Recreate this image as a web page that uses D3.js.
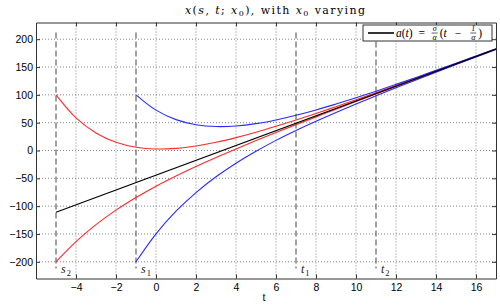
<!DOCTYPE html>
<html>
<head>
<meta charset="utf-8">
<script src="https://cdn.jsdelivr.net/npm/d3@7"></script>
<style>
  body { margin: 0; background: #fff; }
  .tick text { font-family: "Liberation Sans", Arial, sans-serif; font-size: 10.5px; fill: #000; }
  .math { font-family: "Liberation Serif", "DejaVu Serif", serif; }
</style>
</head>
<body>
<svg width="500" height="306"></svg>
<script>
// x tick / y tick labels
var xTicks = [-4, -2, 0, 2, 4, 6, 8, 10, 12, 14, 16];
var yTicks = [-200, -150, -100, -50, 0, 50, 100, 150, 200];

// marked times (dashed lines)
var marks = [
  {name: "s", sub: "2", t: -5},
  {name: "s", sub: "1", t: -1},
  {name: "t", sub: "1", t: 7},
  {name: "t", sub: "2", t: 11}
];

// a(t) line
var tLine = [-5, 17];
var aLine = [-111.1, 182.2];

// curves started at s2 = -5
var tRed = [-5, -4, -3, -2, -1, 0, 1, 2, 3, 4, 5, 6, 7, 8, 9, 10, 11, 12, 13, 14, 15, 16, 17];
var redUpper = [100, 58.6, 31.5, 14.7, 5.8, 2.7, 3.8, 8.1, 14.7, 23.1, 32.7, 43.4, 54.7, 66.5, 78.8, 91.2, 103.9, 116.9, 129.9, 142.9, 156.1, 169.3, 182.5];
var redLower = [-200, -163.7, -133.2, -107.2, -84.6, -64.2, -45.8, -28.7, -12.5, 2.9, 17.8, 32.3, 46.5, 60.4, 74.3, 87.9, 101.5, 115.1, 128.5, 141.9, 155.4, 168.8, 182.1];

// curves started at s1 = -1
var tBlue = [-1, 0, 1, 2, 3, 4, 5, 6, 7, 8, 9, 10, 11, 12, 13, 14, 15, 16, 17];
var blueUpper = [100, 72.5, 55.5, 46.4, 43.1, 44.1, 48.3, 54.9, 63.2, 72.8, 83.5, 94.7, 106.5, 118.8, 131.3, 144.0, 156.9, 169.9, 182.9];
var blueLower = [-200, -149.7, -109.1, -75.6, -47.2, -22.8, -1.3, 18.2, 36.0, 52.6, 68.5, 83.7, 98.3, 112.7, 126.8, 140.6, 154.4, 168.0, 181.6];

var svg = d3.select("svg");
var plotLeft = 36, plotRight = 496, plotTop = 22.5, plotBottom = 278.5;

var x = d3.scaleLinear().domain([-6, 17]).range([plotLeft, plotRight]);
var y = d3.scaleLinear().domain([-230, 230]).range([plotBottom, plotTop]);

svg.append("defs").append("clipPath").attr("id", "plot")
  .append("rect").attr("x", plotLeft).attr("y", plotTop)
  .attr("width", plotRight - plotLeft).attr("height", plotBottom - plotTop);

// grid
var grid = svg.append("g").attr("stroke", "#666").attr("stroke-width", 0.8).attr("stroke-dasharray", "1,2");
grid.selectAll(".gx").data(xTicks).enter().append("line")
  .attr("x1", function(d) { return x(d); }).attr("x2", function(d) { return x(d); })
  .attr("y1", plotTop).attr("y2", plotBottom);
grid.selectAll(".gy").data(yTicks).enter().append("line")
  .attr("y1", function(d) { return y(d); }).attr("y2", function(d) { return y(d); })
  .attr("x1", plotLeft).attr("x2", plotRight);

// dashed markers
svg.append("g").selectAll("line").data(marks).enter().append("line")
  .attr("x1", function(d) { return x(d.t); }).attr("x2", function(d) { return x(d.t); })
  .attr("y1", y(212)).attr("y2", y(-212))
  .attr("stroke", "#444").attr("stroke-width", 1).attr("stroke-dasharray", "6,3");

var labels = svg.append("g").attr("class", "math").selectAll("text").data(marks).enter().append("text")
  .attr("x", function(d) { return x(d.t) + 5; })
  .attr("y", 273)
  .attr("font-size", 12).attr("fill", "#222");
labels.append("tspan").attr("font-style", "italic").text(function(d) { return d.name; });
labels.append("tspan").attr("font-size", 8.5).attr("dx", 1).attr("dy", 2.5).text(function(d) { return d.sub; });

// curves
var plot = svg.append("g").attr("clip-path", "url(#plot)");
var line = d3.line().curve(d3.curveCatmullRom.alpha(0.5))
  .x(function(d) { return x(d[0]); })
  .y(function(d) { return y(d[1]); });

function series(ts, vs) {
  return ts.map(function(t, i) { return [t, vs[i]]; });
}

var curves = [
  {pts: series(tRed, redUpper), color: "#ff2a2a"},
  {pts: series(tRed, redLower), color: "#ff2a2a"},
  {pts: series(tBlue, blueUpper), color: "#2a2aff"},
  {pts: series(tBlue, blueLower), color: "#2a2aff"},
  {pts: series(tLine, aLine), color: "#000"}
];
plot.selectAll("path").data(curves).enter().append("path")
  .attr("d", function(d) { return line(d.pts); })
  .attr("fill", "none")
  .attr("stroke", function(d) { return d.color; })
  .attr("stroke-width", 1.1);

// axes, ticks pointing inwards
svg.append("g").attr("transform", "translate(0," + plotBottom + ")")
  .call(d3.axisBottom(x).tickValues(xTicks).tickSizeInner(-4).tickSizeOuter(0).tickPadding(5));
svg.append("g").attr("transform", "translate(0," + plotTop + ")")
  .call(d3.axisTop(x).tickValues(xTicks).tickSizeInner(-4).tickSizeOuter(0).tickFormat(""));
svg.append("g").attr("transform", "translate(" + plotLeft + ",0)")
  .call(d3.axisLeft(y).tickValues(yTicks).tickSizeInner(-4).tickSizeOuter(0).tickPadding(3));
svg.append("g").attr("transform", "translate(" + plotRight + ",0)")
  .call(d3.axisRight(y).tickValues(yTicks).tickSizeInner(-4).tickSizeOuter(0).tickFormat(""));
svg.selectAll(".domain").attr("stroke", "#333");
svg.selectAll(".tick line").attr("stroke", "#333");

svg.append("text").attr("class", "math")
  .attr("x", (plotLeft + plotRight) / 2 - 2).attr("y", 301)
  .attr("text-anchor", "middle").attr("font-size", 11.5).text("t");

// title
var title = svg.append("text")
  .attr("font-family", "'DejaVu Serif', serif")
  .attr("x", 275).attr("y", 14)
  .attr("text-anchor", "middle").attr("font-size", 11)
  .attr("textLength", 180).attr("lengthAdjust", "spacing");
title.append("tspan").attr("font-style", "italic").text("x");
title.append("tspan").text("(");
title.append("tspan").attr("font-style", "italic").text("s");
title.append("tspan").text(", ");
title.append("tspan").attr("font-style", "italic").text("t");
title.append("tspan").text("; ");
title.append("tspan").attr("font-style", "italic").text("x");
title.append("tspan").attr("font-size", 8).attr("dy", 2).text("0");
title.append("tspan").attr("dy", -2).text("), with ");
title.append("tspan").attr("font-style", "italic").text("x");
title.append("tspan").attr("font-size", 8).attr("dy", 2).text("0");
title.append("tspan").attr("dy", -2).text(" varying");

// legend
var lg = svg.append("g");
lg.append("rect").attr("x", 363).attr("y", 25).attr("width", 129).attr("height", 16)
  .attr("fill", "#fff").attr("stroke", "#333").attr("stroke-width", 1);
lg.append("line").attr("x1", 368).attr("x2", 394).attr("y1", 33).attr("y2", 33)
  .attr("stroke", "#000").attr("stroke-width", 1.6);

var lx = 396;
function part(str, italic) {
  var t = lg.append("text").attr("class", "math").attr("x", lx).attr("y", 37)
    .attr("font-size", 11.5).attr("font-style", italic ? "italic" : "normal").text(str);
  lx += t.node().getComputedTextLength();
}
function frac(num, den) {
  lg.append("text").attr("class", "math").attr("x", lx + 4).attr("y", 31)
    .attr("text-anchor", "middle").attr("font-size", 8).attr("font-style", "italic").text(num);
  lg.append("text").attr("class", "math").attr("x", lx + 4).attr("y", 39.5)
    .attr("text-anchor", "middle").attr("font-size", 8).attr("font-style", "italic").text(den);
  lg.append("line").attr("x1", lx + 1).attr("x2", lx + 7).attr("y1", 33).attr("y2", 33)
    .attr("stroke", "#000").attr("stroke-width", 0.6);
  lx += 9;
}
part("a", true); part("(", false); part("t", true); part(")\u2002=\u2002", false);
frac("σ", "α");
part("(", false); part("t", true); part("\u2002\u2009−\u2002\u2009", false);
frac("1", "α");
part(")", false);
</script>
</body>
</html>
